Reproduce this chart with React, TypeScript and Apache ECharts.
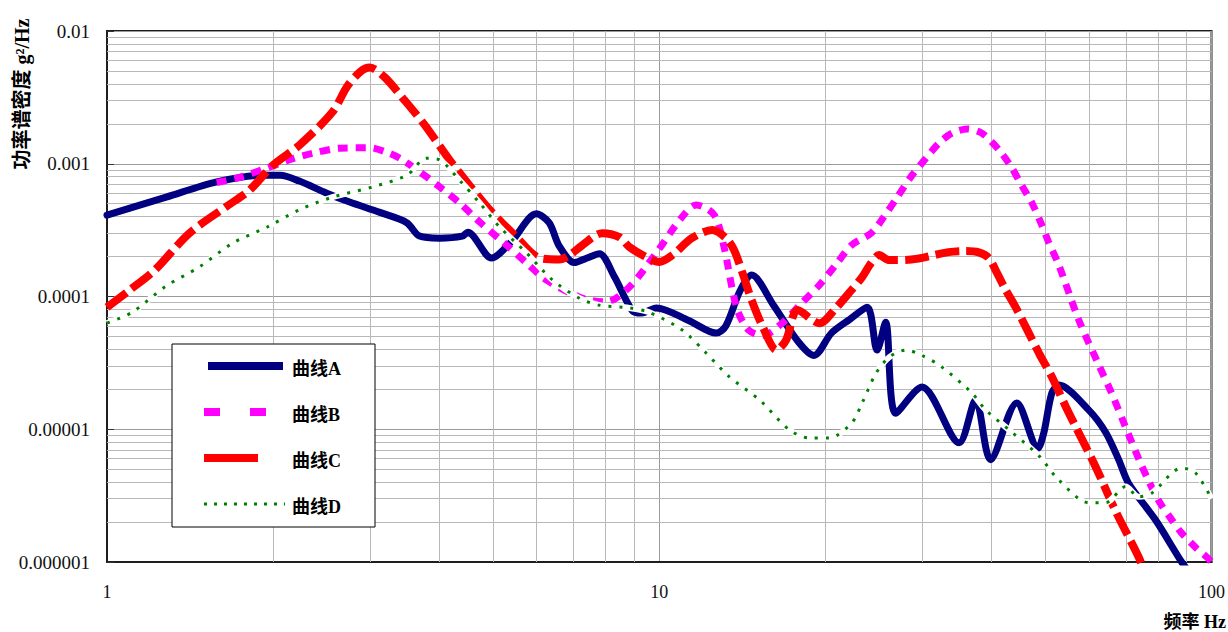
import React, { useEffect, useRef } from "react";
import * as echarts from "echarts";

const seriesNames = ["曲线A", "曲线B", "曲线C", "曲线D"];
const seriesColors = ["#000080", "#ff00ff", "#ff0000", "#008000"];
const xTickLabels = ["1", "10", "100"];
const yTickLabels = ["0.000001", "0.00001", "0.0001", "0.001", "0.01"];
const xMinorGrid = [2, 3, 4, 5, 6, 7, 8, 9, 20, 30, 40, 50, 60, 70, 80, 90];
const yMinorGrid = [
  2e-6, 3e-6, 4e-6, 5e-6, 6e-6, 7e-6, 8e-6, 9e-6,
  2e-5, 3e-5, 4e-5, 5e-5, 6e-5, 7e-5, 8e-5, 9e-5,
  2e-4, 3e-4, 4e-4, 5e-4, 6e-4, 7e-4, 8e-4, 9e-4,
  2e-3, 3e-3, 4e-3, 5e-3, 6e-3, 7e-3, 8e-3, 9e-3,
];

const curveA: [number, number][] = [
  [1, 4.1e-4], [1.28, 5.6e-4], [1.58, 7.3e-4], [1.91, 8.2e-4], [2.06, 8.2e-4],
  [2.23, 7.4e-4], [2.5, 6.0e-4], [2.75, 5.15e-4], [3.12, 4.3e-4], [3.49, 3.6e-4],
  [3.68, 2.85e-4], [4.0, 2.75e-4], [4.4, 2.85e-4], [4.5, 3.05e-4], [4.97, 1.95e-4],
  [5.4, 2.6e-4], [5.99, 4.2e-4], [6.32, 3.6e-4], [6.59, 2.4e-4], [7.02, 1.8e-4],
  [7.4, 1.95e-4], [7.79, 2.1e-4], [8.3, 1.4e-4], [8.94, 7.8e-5], [9.3, 7.5e-5],
  [9.88, 8.2e-5], [11.3, 6.6e-5], [12.68, 5.3e-5], [13.2, 6.0e-5], [14.0, 1.1e-4],
  [14.7, 1.45e-4], [16.1, 8.6e-5], [17.9, 4.5e-5], [19.06, 3.6e-5], [20.5, 5.3e-5],
  [22.1, 6.7e-5], [23.8, 8.3e-5], [24.8, 3.95e-5], [25.7, 6.4e-5], [26.8, 1.32e-5],
  [29.9, 2.08e-5], [34.9, 7.9e-6], [37.4, 1.66e-5], [39.8, 5.9e-6], [44.4, 1.58e-5],
  [48.5, 7.2e-6], [49.7, 9.4e-6], [51.4, 1.88e-5], [52.9, 2.15e-5], [59.9, 1.4e-5],
  [64.3, 9.5e-6], [67.9, 5.9e-6], [70.8, 3.9e-6], [79.2, 2.07e-6], [88.3, 1.0e-6],
  [92, 0.8e-6],
];

const curveB: [number, number][] = [
  [1.58, 7.2e-4], [1.74, 7.9e-4], [1.95, 9.3e-4], [2.17, 1.09e-3], [2.36, 1.2e-3],
  [2.64, 1.31e-3], [2.99, 1.32e-3], [3.21, 1.22e-3], [3.39, 1.1e-3], [3.71, 8.5e-4],
  [4.0, 6.7e-4], [4.35, 5.06e-4], [4.73, 3.64e-4], [5.29, 2.44e-4], [5.75, 1.79e-4],
  [6.25, 1.33e-4], [7.26, 9.7e-5], [8.02, 9.1e-5], [8.83, 1.18e-4], [9.88, 2.13e-4],
  [10.96, 3.9e-4], [11.67, 4.9e-4], [12.58, 4.1e-4], [13.1, 2.36e-4], [13.8, 8.3e-5],
  [14.5, 5.6e-5], [15.4, 5.1e-5], [16.7, 6.3e-5], [18.1, 8.9e-5], [19.5, 1.22e-4],
  [21.0, 1.79e-4], [22.3, 2.44e-4], [24.2, 3.0e-4], [25.5, 3.97e-4], [26.9, 5.5e-4],
  [28.7, 8.2e-4], [30.4, 1.1e-3], [32.1, 1.43e-3], [33.9, 1.7e-3], [36.1, 1.83e-3],
  [38.2, 1.72e-3], [40.0, 1.46e-3], [41.7, 1.2e-3], [43.5, 9.3e-4], [45.3, 6.9e-4],
  [47.3, 5.06e-4], [49.1, 3.58e-4], [50.7, 2.57e-4], [52.9, 1.73e-4], [57.5, 6.65e-5],
  [62.5, 3.05e-5], [65.9, 1.88e-5], [69.3, 1.13e-5], [73.8, 6.0e-6], [76.3, 4.4e-6],
  [80.2, 2.9e-6], [84.3, 2.14e-6], [88.3, 1.65e-6], [93.9, 1.27e-6], [98, 1.09e-6],
  [100, 1.0e-6],
];

const curveC: [number, number][] = [
  [1, 8.3e-5], [1.1, 1.12e-4], [1.22, 1.58e-4], [1.41, 3.0e-4], [1.65, 4.8e-4],
  [1.81, 6.3e-4], [2.0, 9.8e-4], [2.23, 1.38e-3], [2.56, 2.45e-3], [2.72, 3.8e-3],
  [2.87, 4.9e-3], [2.99, 5.3e-3], [3.18, 4.5e-3], [3.46, 3.0e-3], [3.76, 1.96e-3],
  [4.17, 1.07e-3], [4.53, 6.9e-4], [4.93, 4.5e-4], [5.47, 2.9e-4], [6.07, 1.95e-4],
  [6.59, 1.9e-4], [6.88, 2.05e-4], [7.26, 2.44e-4], [7.88, 3.0e-4], [8.47, 2.8e-4],
  [8.83, 2.36e-4], [9.47, 1.98e-4], [10.0, 1.82e-4], [10.56, 2.05e-4], [11.47, 2.76e-4],
  [12.47, 3.17e-4], [13.2, 2.76e-4], [13.66, 2.24e-4], [14.13, 1.53e-4], [14.7, 9.4e-5],
  [15.4, 5.9e-5], [16.3, 3.95e-5], [16.97, 4.7e-5], [17.8, 7.9e-5], [19.5, 6.3e-5],
  [20.9, 8.2e-5], [22.3, 1.12e-4], [23.3, 1.4e-4], [24.2, 1.79e-4], [25.0, 2.05e-4],
  [26.1, 1.88e-4], [28.6, 1.9e-4], [33.4, 2.16e-4], [35.9, 2.2e-4], [37.9, 2.15e-4],
  [39.5, 1.95e-4], [40.9, 1.5e-4], [42.4, 1.12e-4], [44.2, 8.3e-5], [48.7, 3.75e-5],
  [51.4, 2.48e-5], [54.5, 1.47e-5], [56.8, 1.04e-5], [61.7, 5.2e-6], [67.3, 2.34e-6],
  [73.8, 1.09e-6], [76, 0.8e-6],
];

const curveD: [number, number][] = [
  [1, 6.3e-5], [1.11, 7.6e-5], [1.28, 1.2e-4], [1.47, 1.67e-4], [1.69, 2.53e-4],
  [1.95, 3.34e-4], [2.23, 4.5e-4], [2.56, 5.6e-4], [3.03, 6.7e-4], [3.49, 8.2e-4],
  [3.79, 1.1e-3], [4.0, 1.07e-3], [4.35, 7.5e-4], [4.73, 5.06e-4], [5.14, 3.34e-4],
  [5.75, 2.13e-4], [6.41, 1.33e-4], [7.17, 9.7e-5], [7.79, 8.6e-5], [8.83, 8.2e-5],
  [9.59, 7.6e-5], [11.0, 5.6e-5], [12.16, 3.75e-5], [13.4, 2.48e-5], [15.2, 1.66e-5],
  [17.2, 9.9e-6], [18.7, 8.6e-6], [20.3, 8.6e-6], [22.3, 1.11e-5], [23.3, 1.58e-5],
  [24.7, 2.65e-5], [26.1, 3.5e-5], [28.0, 3.95e-5], [29.9, 3.6e-5], [32.5, 2.94e-5],
  [36.8, 1.88e-5], [39.0, 1.4e-5], [43.5, 9.5e-6], [48.7, 6.3e-6], [52.9, 4.15e-6],
  [59.9, 2.8e-6], [64.3, 2.8e-6], [69.9, 3.7e-6], [73.8, 3.1e-6], [77.9, 3.3e-6],
  [88.3, 5.1e-6], [93.5, 4.7e-6], [100, 3.0e-6],
];

const serifFont = '"Liberation Serif", "Times New Roman", serif';
const cjkFont = '"Liberation Serif", "Noto Sans CJK SC", sans-serif';

export default function App() {
  const ref = useRef<HTMLDivElement>(null);

  useEffect(() => {
    if (!ref.current) return;
    const chart = echarts.init(ref.current, undefined, { renderer: "svg" });

    const base = (i: number, data: [number, number][], extra: any) => ({
      name: seriesNames[i],
      type: "line",
      data,
      symbol: "none",
      showSymbol: false,
      smooth: 0.3,
      silent: true,
      clip: true,
      ...extra,
    });

    const legendY = [366, 412, 458, 504];
    const legendLineX: [number, number][] = [[208, 283], [204, 266], [204, 258], [204, 285]];
    const legendStyles = [
      { lineWidth: 8 },
      { lineWidth: 8, lineDash: [16, 30] },
      { lineWidth: 8 },
      { lineWidth: 3, lineDash: [3, 7] },
    ];

    const legendElements: any[] = [
      {
        type: "rect",
        shape: { x: 172, y: 344, width: 203, height: 183 },
        style: { fill: "#fff", stroke: "#000", lineWidth: 1 },
        z: 100,
      },
    ];
    seriesNames.forEach((n, i) => {
      legendElements.push({
        type: "line",
        shape: { x1: legendLineX[i][0], y1: legendY[i], x2: legendLineX[i][1], y2: legendY[i] },
        style: { stroke: seriesColors[i], lineCap: "butt", ...legendStyles[i] },
        z: 101,
      });
      legendElements.push({
        type: "text",
        x: 292,
        y: legendY[i] + 3,
        style: {
          text: n,
          fill: "#000",
          fontSize: 18,
          fontWeight: "bold",
          fontFamily: cjkFont,
          textAlign: "left",
          textVerticalAlign: "middle",
          align: "left",
          verticalAlign: "middle",
        },
        z: 101,
      });
    });

    const option: any = {
      animation: false,
      backgroundColor: "#fff",
      grid: {
        left: 107,
        top: 31,
        width: 1106,
        height: 531,
        show: true,
        borderColor: "#1e1e1e",
        borderWidth: 2,
        backgroundColor: "transparent",
      },
      xAxis: {
        type: "log",
        logBase: 10,
        min: 1,
        max: 100,
        axisLine: { show: true, lineStyle: { color: "#1e1e1e", width: 2 } },
        axisTick: { show: false },
        axisLabel: {
          margin: 21,
          fontSize: 18,
          fontFamily: serifFont,
          color: "#111",
          formatter: (v: number) => xTickLabels[Math.round(Math.log10(v))] ?? "",
        },
        splitLine: { show: true, lineStyle: { color: "#9a9a9a", width: 1 } },
      },
      yAxis: {
        type: "log",
        logBase: 10,
        min: 1e-6,
        max: 0.01,
        axisLine: { show: true, lineStyle: { color: "#1e1e1e", width: 2 } },
        axisTick: { show: true, inside: true, length: 7, lineStyle: { color: "#333", width: 1 } },
        axisLabel: {
          margin: 17,
          fontSize: 19,
          fontFamily: serifFont,
          color: "#111",
          formatter: (v: number) => yTickLabels[Math.round(Math.log10(v)) + 6] ?? "",
        },
        splitLine: { show: true, lineStyle: { color: "#9a9a9a", width: 1 } },
      },
      graphic: [
        ...legendElements,
        {
          type: "text",
          x: 22,
          y: 94,
          rotation: Math.PI / 2,
          style: {
            text: "功率谱密度 g²/Hz",
            fill: "#000",
            fontSize: 20,
            fontWeight: "bold",
            fontFamily: cjkFont,
            textAlign: "center",
            textVerticalAlign: "middle",
            align: "center",
            verticalAlign: "middle",
          },
        },
        {
          type: "text",
          x: 1226,
          y: 622,
          style: {
            text: "频率 Hz",
            fill: "#000",
            fontSize: 18,
            fontWeight: "bold",
            fontFamily: cjkFont,
            textAlign: "right",
            textVerticalAlign: "middle",
            align: "right",
            verticalAlign: "middle",
          },
        },
      ],
      series: [
        {
          name: "grid-minor",
          type: "line",
          data: [],
          symbol: "none",
          silent: true,
          markLine: {
            silent: true,
            z: 1,
            precision: 12,
            symbol: ["none", "none"],
            label: { show: false },
            emphasis: { disabled: true },
            lineStyle: { color: "#b8b8b8", width: 1, type: "solid" },
            data: [
              ...xMinorGrid.map((v) => ({ xAxis: v })),
              ...yMinorGrid.map((v) => ({ yAxis: v })),
            ],
          },
        },
        base(0, curveA, { z: 3, lineStyle: { color: seriesColors[0], width: 7, cap: "round", join: "round" } }),
        base(1, curveB, { z: 4, lineStyle: { color: seriesColors[1], width: 7, type: [10, 8], cap: "butt" } }),
        base(2, curveC, { z: 5, lineStyle: { color: seriesColors[2], width: 8, type: [24, 7], cap: "butt" } }),
        {
          name: "halo",
          type: "line",
          data: curveD,
          symbol: "none",
          smooth: 0.3,
          silent: true,
          z: 6,
          lineStyle: { color: "#ffffff", width: 6 },
        },
        base(3, curveD, { z: 7, lineStyle: { color: seriesColors[3], width: 3, type: [3, 8], cap: "butt" } }),
      ],
    };

    chart.setOption(option);
    return () => chart.dispose();
  }, []);

  return (
    <div
      ref={ref}
      style={{ position: "fixed", left: 0, top: 0, width: 1228, height: 632, background: "#fff" }}
    />
  );
}
